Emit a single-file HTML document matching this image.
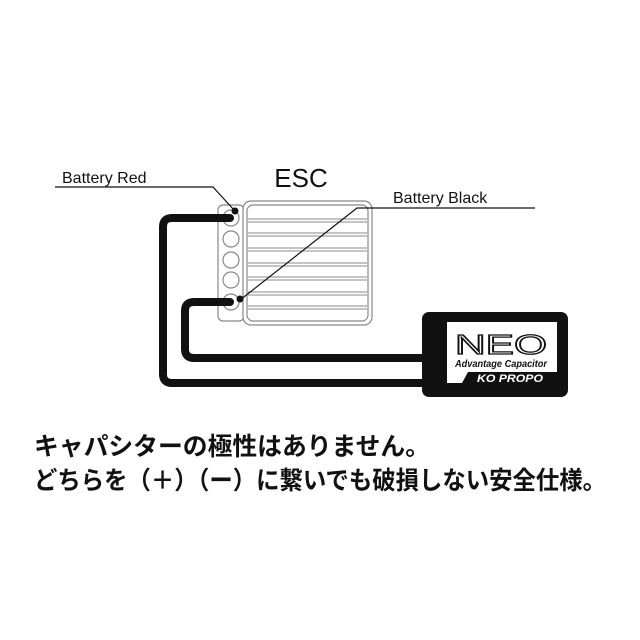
<!DOCTYPE html>
<html><head><meta charset="utf-8"><style>
body{margin:0;background:#fff;}
svg{display:block}
</style></head><body>
<svg width="640" height="640" viewBox="0 0 640 640" xmlns="http://www.w3.org/2000/svg">
<rect width="640" height="640" fill="#fff"/>
<!-- ESC -->
<text x="301" y="187" font-family="Liberation Sans, sans-serif" font-size="26" text-anchor="middle" fill="#111">ESC</text>
<rect x="218" y="205" width="26" height="116" rx="5" fill="#fff" stroke="#888" stroke-width="1.2"/>
<rect x="243" y="201" width="129" height="124" rx="8" fill="#fff" stroke="#888" stroke-width="1.2"/>
<rect x="247" y="205" width="121" height="116" rx="6" fill="#fff" stroke="#888" stroke-width="1.2"/>
<g stroke="#888" stroke-width="1">
<line x1="248" y1="219" x2="367" y2="219"/><line x1="248" y1="222" x2="367" y2="222"/>
<line x1="248" y1="233" x2="367" y2="233"/><line x1="248" y1="236" x2="367" y2="236"/>
<line x1="248" y1="248" x2="367" y2="248"/><line x1="248" y1="251" x2="367" y2="251"/>
<line x1="248" y1="263" x2="367" y2="263"/><line x1="248" y1="266" x2="367" y2="266"/>
<line x1="248" y1="277" x2="367" y2="277"/><line x1="248" y1="280" x2="367" y2="280"/>
<line x1="248" y1="292" x2="367" y2="292"/><line x1="248" y1="295" x2="367" y2="295"/>
<line x1="248" y1="306" x2="367" y2="306"/><line x1="248" y1="309" x2="367" y2="309"/>
</g>
<g fill="#fff" stroke="#888" stroke-width="1.2">
<circle cx="231" cy="218" r="8"/><circle cx="231" cy="239" r="8"/><circle cx="231" cy="260" r="8"/><circle cx="231" cy="280" r="8"/><circle cx="231" cy="302" r="8"/>
</g>
<!-- wires -->
<g fill="none" stroke="#111" stroke-width="8" stroke-linejoin="round" stroke-linecap="round">
<path d="M230 218 H172 Q163 218 163 227 V374 Q163 383 172 383 H432"/>
<path d="M230 302 H194 Q185 302 185 311 V349 Q185 358 194 358 H432"/>
</g>
<!-- leaders -->
<g fill="none" stroke="#111" stroke-width="1.2">
<path d="M55 187 H213 L234 210"/>
<path d="M535 208 H357 L240 300"/>
</g>
<circle cx="235" cy="211" r="3.5" fill="#111"/>
<circle cx="240" cy="299" r="3.5" fill="#111"/>
<text x="62" y="183" font-family="Liberation Sans, sans-serif" font-size="16" fill="#111">Battery Red</text>
<text x="393" y="203" font-family="Liberation Sans, sans-serif" font-size="16" fill="#111">Battery Black</text>
<!-- capacitor -->
<rect x="422" y="312" width="146" height="85" rx="7" fill="#111"/>
<rect x="447" y="322" width="110" height="61" fill="#fff"/>
<polygon points="468,372 557,372 557,383 462,383" fill="#111"/>
<text x="501" y="354" font-family="Liberation Sans, sans-serif" font-size="28" text-anchor="middle" fill="#fff" stroke="#111" stroke-width="1.3" textLength="92" lengthAdjust="spacingAndGlyphs">NEO</text>
<text x="501" y="367" font-family="Liberation Sans, sans-serif" font-size="10" font-weight="bold" font-style="italic" text-anchor="middle" fill="#111" textLength="92" lengthAdjust="spacingAndGlyphs">Advantage Capacitor</text>
<text x="510" y="382" font-family="Liberation Sans, sans-serif" font-size="11" font-weight="bold" font-style="italic" text-anchor="middle" fill="#fff" textLength="66" lengthAdjust="spacingAndGlyphs">KO PROPO</text>
<!-- Japanese -->
<text x="34" y="455" font-family="Liberation Sans, 'Noto Sans CJK JP', sans-serif" font-size="25" font-weight="bold" fill="#111" textLength="396" lengthAdjust="spacingAndGlyphs">キャパシターの極性はありません。</text>
<text x="34" y="489" font-family="Liberation Sans, 'Noto Sans CJK JP', sans-serif" font-size="25" font-weight="bold" fill="#111" textLength="572" lengthAdjust="spacingAndGlyphs">どちらを（＋）（ー）に繋いでも破損しない安全仕様。</text>
</svg>
</body></html>
